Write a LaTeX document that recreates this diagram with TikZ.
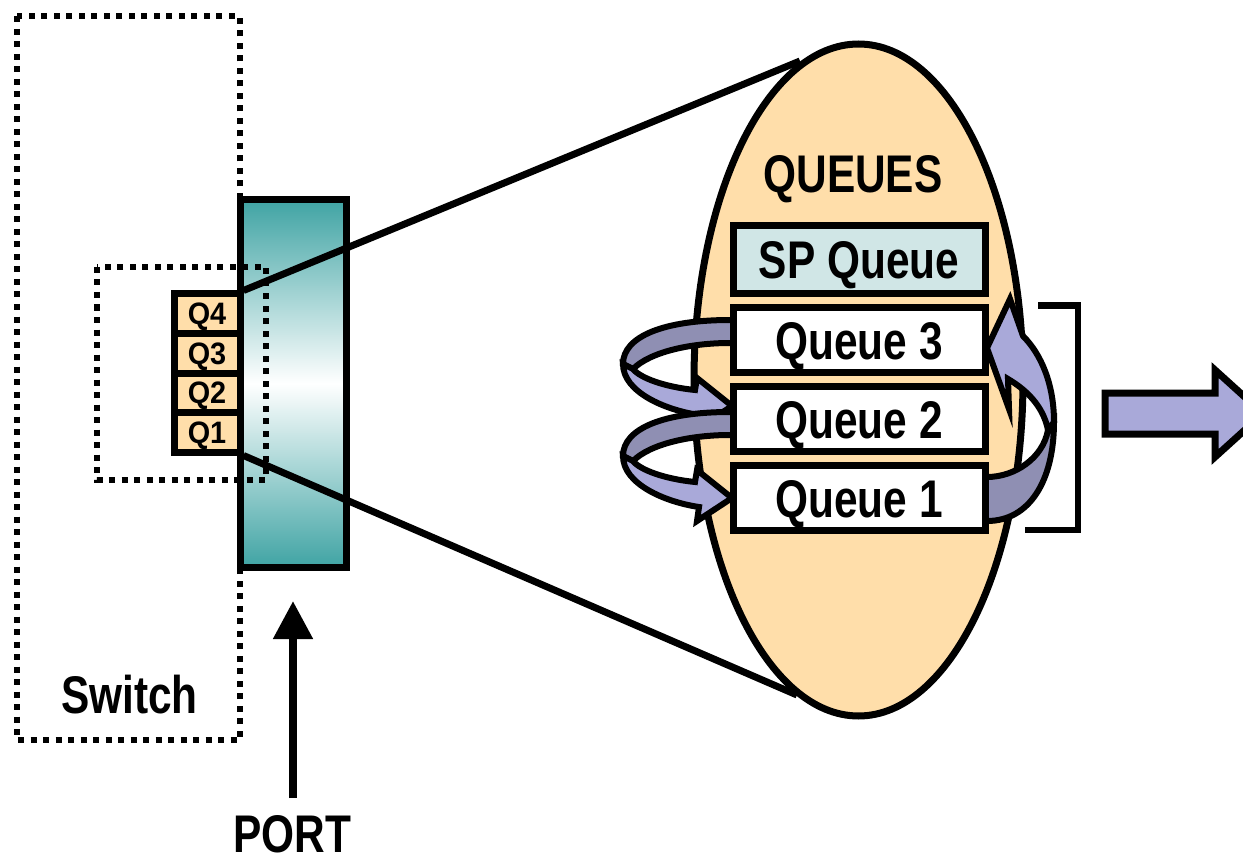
\documentclass[tikz,border=0pt]{standalone}
\usepackage{fontspec}
\setmainfont{Liberation Sans}
\newfontfamily\labfont{Liberation Sans}[FakeStretch=0.8]
\newfontfamily\qfont{Liberation Sans}[FakeStretch=0.93]
\usetikzlibrary{arrows.meta,shapes.geometric}
\definecolor{peach}{RGB}{255,222,170}
\definecolor{spblue}{RGB}{208,230,230}
\definecolor{tealport}{RGB}{64,164,164}
\definecolor{bandDark}{RGB}{143,143,179}
\definecolor{bandLight}{RGB}{169,169,217}
\begin{document}
\begin{tikzpicture}[x=1pt,y=-1pt,
  bigtext/.style={font={\labfont\bfseries\fontsize{53}{60}\selectfont}},
  qbox/.style={draw,line width=7pt,fill=white,minimum width=252pt,minimum height=65pt,
    inner sep=0pt,text height=38pt,text depth=0pt,bigtext},
  smallq/.style={draw,line width=7pt,fill=peach,minimum width=66pt,minimum height=39.5pt,
    inner sep=0pt,text height=22pt,text depth=0pt,font={\qfont\bfseries\fontsize{31}{34}\selectfont}},
  dotline/.style={line width=6pt,dash pattern=on 6pt off 6.5pt},
  band/.style={draw,line width=6pt,line join=miter},
  loopl/.pic={
    \filldraw[band,fill=bandDark] (742,320) -- (730,320) .. controls (665,320) and (623,336) .. (623,364)
      -- (633,369) .. controls (650,352) and (690,343) .. (730,343) -- (742,343) -- cycle;
    \filldraw[band,fill=bandLight] (623,364) .. controls (623,392) and (665,410) .. (699,415)
      -- (697,429) -- (732,406) -- (697,378) -- (695,390)
      .. controls (665,387) and (640,378) .. (633,369) -- cycle;
  }]
\useasboundingbox (0,0) rectangle (1243,861);
% switch outline
\draw[dotline] (16.5,16.5) rectangle (239.5,740);
\node[bigtext,text height=38pt,text depth=0pt,inner sep=0pt] (switch) at (129.5,694) {Switch};
% port
\node[draw,line width=7pt,top color=tealport,bottom color=tealport,middle color=white,
  minimum width=106pt,minimum height=367pt,inner sep=0pt] (port) at (293,383.5) {};
% small queues
\node[smallq] (q4) at (207,313.75) {Q4};
\node[smallq] (q3) at (207,353.25) {Q3};
\node[smallq] (q2) at (207,392.75) {Q2};
\node[smallq] (q1) at (207,432.25) {Q1};
\draw[dotline] (96.5,267) rectangle (266,479.5);
% cone lines
\coordinate (ctop) at (800,61);
\coordinate (cbot) at (797,695);
\draw[line width=7pt] (q4.north east) -- (ctop);
\draw[line width=7pt] (q1.south east) -- (cbot);
% ellipse
\node[ellipse,draw,fill=peach,line width=7pt,minimum width=329pt,minimum height=672pt,inner sep=0pt]
  (ell) at (858.5,380) {};
\node[bigtext,text height=38pt,text depth=0pt,inner sep=0pt] (queues) at (853,174) {QUEUES};
% curved arrows
\pic at (0,0) {loopl};
\pic at (0,92) {loopl};
\filldraw[band,fill=bandDark] (978,477) -- (987,477) .. controls (1015,477) and (1043,458) .. (1048,430)
  -- (1054,422) .. controls (1054,480) and (1030,521) .. (987,521) -- (978,521) -- cycle;
\filldraw[band,fill=bandLight] (1054,422) .. controls (1054,384) and (1041,354) .. (1023,336)
  -- (1010,299) -- (987,348) -- (1009,409) -- (1008,379)
  .. controls (1025,389) and (1043,405) .. (1048,430) -- cycle;
% queue boxes
\node[qbox,fill=spblue,minimum height=68pt] (sp) at (859,260) {SP Queue};
\node[qbox] (qq3) at (859,340) {Queue 3};
\node[qbox] (qq2) at (859,419) {Queue 2};
\node[qbox] (qq1) at (859,498) {Queue 1};
% bracket
\coordinate (bA) at (1038,305.5);
\coordinate (bB) at (1078,305.5);
\coordinate (bC) at (1078,530);
\coordinate (bD) at (1025,530);
\draw[line width=6pt] (bA) -- (bB) -- (bC) -- (bD);
% output arrow
\filldraw[draw,line width=7pt,fill=bandLight,line join=miter,miter limit=20]
  (1105,393) -- (1215,393) -- (1215,370) -- (1263,413.5) -- (1215,457) -- (1215,434) -- (1105,434) -- cycle;
% port arrow
\node[bigtext,text height=38pt,text depth=0pt,inner sep=0pt] (portlabel) at (292.5,833) {PORT};
\coordinate (pbase) at (293,798);
\coordinate (ptip) at (293,601);
\draw[line width=8pt,-{Triangle[length=38pt,width=38pt]}] (pbase) -- (ptip);
\end{tikzpicture}
\end{document}
